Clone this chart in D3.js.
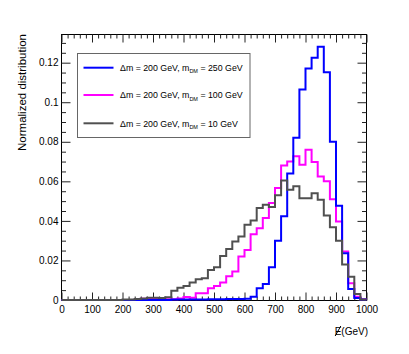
<!DOCTYPE html>
<html>
<head>
<meta charset="utf-8">
<script src="https://cdn.jsdelivr.net/npm/d3@7"></script>
<style>
  body { margin: 0; background: #fff; }
  svg text { font-family: "Liberation Sans", Arial, sans-serif; fill: #000; }
</style>
</head>
<body>
<svg width="409" height="354"></svg>
<script>
// bins of 20 GeV from 0 to 1000
var binLow = d3.range(0, 1000, 20);

// m_DM = 250 GeV (blue)
var blueVals = [0,0,0,0,0,0,0,0,0,0,
  0,0,0,0,0,0,0,0,0.0003,0.0003,
  0.0003,0.0003,0.0003,0.0003,0.0004,0.0004,0.0004,0.0005,0.0005,0.0005,
  0.0006,0.0017,0.0059,0.0081,0.0166,0.030,0.0424,0.064,0.082,0.1065,
  0.117,0.1225,0.128,0.1152,0.080,0.0477,0.0237,0.0055,0.001,0.0002];

// m_DM = 100 GeV (magenta)
var magentaVals = [0,0,0,0,0,0,0,0,0,0,
  0,0,0.0003,0.0006,0.0005,0.0006,0.0005,0.0004,0.0004,0.0008,
  0.0015,0.0012,0.0034,0.0034,0.0059,0.0071,0.0088,0.012,0.0144,0.022,
  0.0253,0.0333,0.0363,0.0414,0.049,0.0566,0.068,0.070,0.0727,0.0684,
  0.076,0.0698,0.0625,0.060,0.051,0.0397,0.0245,0.0085,0.0017,0.0004];

// m_DM = 10 GeV (dark grey)
var greyVals = [0,0,0,0,0,0,0,0,0,0,
  0.0002,0.0003,0.0005,0.0008,0.0012,0.0012,0.001,0.0014,0.0047,0.0062,
  0.0071,0.0088,0.0105,0.011,0.0152,0.0166,0.0223,0.0258,0.0296,0.0321,
  0.038,0.0402,0.0465,0.0482,0.047,0.053,0.0604,0.0558,0.0575,0.0515,
  0.0515,0.054,0.0507,0.0427,0.0368,0.030,0.018,0.0118,0.003,0.0003];

var seriesNames = ["Δm = 200 GeV, m|DM| = 250 GeV", "Δm = 200 GeV, m|DM| = 100 GeV", "Δm = 200 GeV, m|DM| = 10 GeV"];
var seriesColors = ["#0000ff", "#ff00ff", "#505050"];

var xTicks = [0,100,200,300,400,500,600,700,800,900,1000];
var xTickLabels = ["0","100","200","300","400","500","600","700","800","900","1000"];
var yTicks = [0,0.02,0.04,0.06,0.08,0.1,0.12];
var yTickLabels = ["0","0.02","0.04","0.06","0.08","0.1","0.12"];

var svg = d3.select("svg");
var fLeft = 61.5, fRight = 366.5, fTop = 34, fBottom = 300;

var x = d3.scaleLinear().domain([0, 1000]).range([fLeft, fRight]);
var y = d3.scaleLinear().domain([0, 0.1345]).range([fBottom, fTop]);

// frame
svg.append("rect")
  .attr("x", fLeft).attr("y", fTop + 0.5)
  .attr("width", fRight - fLeft).attr("height", fBottom - fTop)
  .attr("fill", "none").attr("stroke", "#000").attr("stroke-width", 1);

function styleAxis(g) {
  g.select(".domain").remove();
  g.selectAll("line").attr("stroke", "#222");
  g.selectAll("text").style("font-size", "10px").attr("fill", "#000");
}

var xMinor = d3.range(0, 1001, 20).filter(function(d){ return d % 100 !== 0; });
var yMinor = d3.range(0, 0.1345, 0.005).filter(function(d){ return Math.round(d * 1000) % 20 !== 0; });

// bottom
svg.append("g").attr("transform", "translate(0," + (fBottom + 0.5) + ")")
  .call(d3.axisBottom(x).tickValues(xTicks).tickSize(-8).tickPadding(5)
    .tickFormat(function(d, i){ return xTickLabels[i]; }))
  .call(styleAxis);
svg.append("g").attr("transform", "translate(0," + (fBottom + 0.5) + ")")
  .call(d3.axisBottom(x).tickValues(xMinor).tickSize(-4).tickFormat(""))
  .call(styleAxis);
// top
svg.append("g").attr("transform", "translate(0," + (fTop + 0.5) + ")")
  .call(d3.axisTop(x).tickValues(xTicks).tickSize(-8).tickFormat(""))
  .call(styleAxis);
svg.append("g").attr("transform", "translate(0," + (fTop + 0.5) + ")")
  .call(d3.axisTop(x).tickValues(xMinor).tickSize(-4).tickFormat(""))
  .call(styleAxis);
// left
svg.append("g").attr("transform", "translate(" + fLeft + ",0)")
  .call(d3.axisLeft(y).tickValues(yTicks).tickSize(-9).tickPadding(3)
    .tickFormat(function(d, i){ return yTickLabels[i]; }))
  .call(styleAxis);
svg.append("g").attr("transform", "translate(" + fLeft + ",0)")
  .call(d3.axisLeft(y).tickValues(yMinor).tickSize(-4.5).tickFormat(""))
  .call(styleAxis);
// right
svg.append("g").attr("transform", "translate(" + fRight + ",0)")
  .call(d3.axisRight(y).tickValues(yTicks).tickSize(-9).tickFormat(""))
  .call(styleAxis);
svg.append("g").attr("transform", "translate(" + fRight + ",0)")
  .call(d3.axisRight(y).tickValues(yMinor).tickSize(-4.5).tickFormat(""))
  .call(styleAxis);

// histograms
var line = d3.line()
  .x(function(d){ return x(d[0]); })
  .y(function(d){ return y(d[1]); })
  .curve(d3.curveStepAfter);

function histPoints(vals) {
  var pts = binLow.map(function(b, i){ return [b, vals[i]]; });
  pts.push([1000, vals[vals.length - 1]]);
  return pts;
}

var allSeries = [magentaVals, blueVals, greyVals];
var drawColors = [seriesColors[1], seriesColors[0], seriesColors[2]];
allSeries.forEach(function(vals, i){
  svg.append("path")
    .attr("d", line(histPoints(vals)))
    .attr("fill", "none")
    .attr("stroke", drawColors[i])
    .attr("stroke-width", 2);
});

// legend
var lg = svg.append("g");
lg.append("rect")
  .attr("x", 77.5).attr("y", 53.5).attr("width", 172.5).attr("height", 84)
  .attr("fill", "#fff").attr("stroke", "#666").attr("stroke-width", 1);
var legY = [67.7, 95, 123.3];
seriesNames.forEach(function(name, i){
  lg.append("line")
    .attr("x1", 83.5).attr("x2", 113.5)
    .attr("y1", legY[i]).attr("y2", legY[i])
    .attr("stroke", seriesColors[i]).attr("stroke-width", 2);
  var parts = name.split("|");
  var t = lg.append("text").attr("x", 120).attr("y", legY[i] + 3.2)
    .style("font-size", "8.8px");
  t.append("tspan").text(parts[0]);
  t.append("tspan").attr("dy", 2.5).style("font-size", "5.5px").text(parts[1]);
  t.append("tspan").attr("dy", -2.5).text(parts[2]);
});

// axis titles
svg.append("text")
  .attr("transform", "translate(26," + fTop + ") rotate(-90)")
  .attr("text-anchor", "end")
  .style("font-size", "11.5px")
  .text("Normalized distribution");

var gev = svg.append("text")
  .attr("x", 368).attr("y", 335)
  .attr("text-anchor", "end")
  .style("font-size", "10px")
  .text("(GeV)");
var gevW = gev.node().getComputedTextLength();
var eText = svg.append("text")
  .attr("x", 368 - gevW).attr("y", 335)
  .attr("text-anchor", "end")
  .style("font-size", "10px")
  .text("E");
var eW = eText.node().getComputedTextLength();
var ex = 368 - gevW - eW;
svg.append("line")
  .attr("x1", ex + 0.5).attr("y1", 336)
  .attr("x2", ex + eW - 0.5).attr("y2", 326)
  .attr("stroke", "#000").attr("stroke-width", 1);
</script>
</body>
</html>
